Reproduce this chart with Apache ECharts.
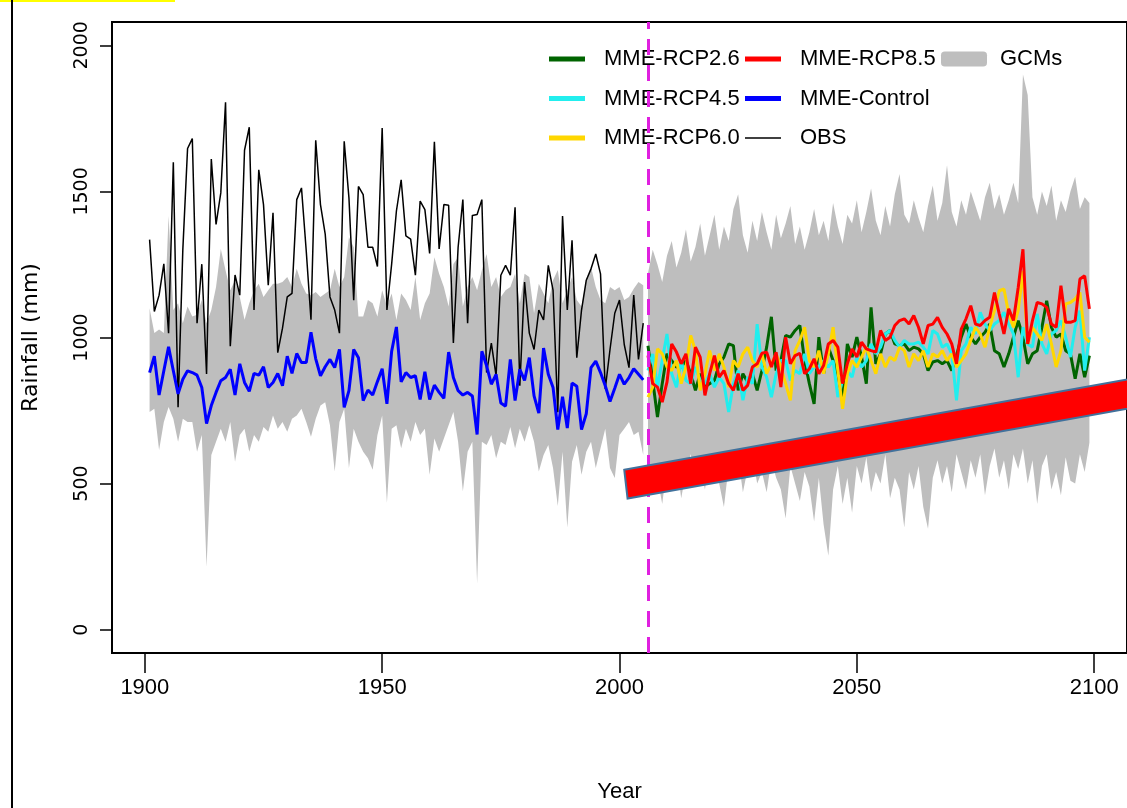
<!DOCTYPE html>
<html><head><meta charset="utf-8">
<script src="https://cdn.jsdelivr.net/npm/echarts@6/dist/echarts.min.js"></script>
<style>html,body{margin:0;padding:0;background:#fff}#c{width:1127px;height:808px}</style>
</head><body><div id="c"></div>
<script>
// ---------- data ----------
const histStart = 1901, futStart = 2006, splitYear = 2006;
const obs = [
1335,1089,1145,1252,1015,1600,761,1300,1647,1681,
1049,1251,875,1611,1387,1495,1805,970,1214,1145,
1641,1720,1094,1574,1455,1179,1427,948,1032,1139,
1151,1472,1512,1297,1061,1675,1455,1354,1139,1094,
1015,1672,1478,1128,1517,1489,1309,1309,1243,1717,
1094,1252,1433,1540,1348,1337,1213,1467,1438,1288,
1670,1303,1455,1453,981,1309,1472,1049,1418,1421,
1472,880,981,869,1213,1247,1213,1446,835,1190,
1015,959,1094,1060,1247,1162,744,1416,1094,1333,
931,1094,1196,1235,1286,1218,824,959,1083,1128,
976,897,1145,925,1049];
const control = [
880,936,803,886,968,886,807,857,886,880,
871,829,705,767,812,852,863,891,803,910,
846,816,877,871,900,829,846,877,835,936,
877,945,914,914,1018,927,869,900,925,897,
959,761,818,959,931,784,820,803,849,893,
773,953,1036,848,880,863,869,788,883,788,
837,812,792,950,863,818,803,812,800,668,
953,903,840,874,776,765,925,784,891,853,
931,800,741,964,874,829,685,797,690,844,
833,685,739,897,919,880,835,781,826,874,
840,863,893,874,855];
const gcmHistUpper = [
1100,1015,1027,1015,1416,1094,1117,1049,1106,1072,
1078,1128,1049,1094,1173,1303,1230,1162,1196,1139,
1061,1117,1162,1184,1139,1162,1184,1184,1190,1207,
1173,1235,1184,1151,1145,1156,1139,1151,1162,1235,
1173,1207,1343,1309,1072,1072,1128,1117,1072,1162,
1106,1151,1060,1151,1128,1094,1207,1060,1117,1151,
1275,1218,1173,1106,1252,1275,1106,1173,1207,1162,
1230,1286,1173,1207,1139,1162,1173,1218,1117,1218,
1207,1083,1184,1151,1117,1196,1231,1117,1162,1207,
1128,1106,1196,1241,1173,1128,1117,1173,1162,1173,
1128,1139,1167,1190,1179];
const gcmHistLower = [
745,756,615,711,762,722,643,722,711,711,
609,666,214,598,643,688,643,711,575,666,
688,609,666,643,694,677,733,688,711,677,
722,733,756,711,660,722,767,778,700,541,
711,756,553,688,643,609,587,547,666,733,
434,688,700,621,688,643,711,666,688,530,
654,609,654,700,745,643,474,609,643,158,
643,632,666,587,643,632,694,621,688,643,
700,643,541,598,632,553,423,609,350,575,
632,530,609,643,553,621,688,553,519,666,
688,711,666,677,598];
const rcp26 = [
972,853,728,842,944,921,899,899,921,876,
819,876,830,842,853,910,933,978,972,819,
876,847,876,819,887,967,1071,887,921,1007,
1001,1024,1041,921,842,773,1001,876,967,921,
876,785,978,933,1001,933,842,1103,910,944,
1012,1024,978,972,978,955,967,961,944,887,
916,921,910,921,887,938,1001,1046,1001,978,
1001,1018,1046,955,944,899,944,1001,1058,1001,
910,944,955,1035,1126,1035,1001,1012,955,944,
859,944,864,938];
const rcp45 = [
887,944,830,921,1012,876,830,921,853,842,
899,853,842,876,830,864,842,745,842,887,
785,864,842,1046,899,864,796,876,921,921,
853,887,876,944,876,899,899,921,899,921,
796,853,887,864,933,899,921,978,944,967,
1012,1024,990,967,990,978,978,984,967,944,
1024,1012,967,978,944,785,955,978,1035,1012,
1086,1046,1024,1046,1058,1086,1046,1012,864,1035,
978,967,1081,978,944,1012,1024,1058,1001,933,
1035,1092,887,1001];
const rcp60 = [
796,830,961,944,899,887,921,842,899,1007,
955,819,876,955,887,944,899,830,921,899,
944,967,921,899,944,876,910,944,899,842,
785,955,990,1035,921,899,955,876,944,1035,
887,756,876,921,899,933,967,921,876,944,
899,933,921,967,955,899,944,921,955,899,
944,933,955,921,944,899,921,944,990,1035,
1012,967,1035,1092,1160,1166,1081,1035,1092,1228,
978,1035,1012,990,1046,978,899,955,1115,1120,
1132,1154,1001,984];
const rcp85 = [
938,842,830,779,847,978,950,910,944,842,
967,933,802,876,938,864,887,842,819,876,
819,836,899,910,946,950,899,950,830,1001,
910,938,946,876,893,927,876,904,978,990,
967,842,910,961,933,984,961,955,950,1024,
990,1001,1041,1058,1064,1046,1075,1035,978,1041,
1046,1069,1035,1012,978,910,1029,1064,1109,1046,
1041,1058,1069,1154,1081,1012,1098,1058,1171,1302,
978,1058,1120,1115,1103,1046,1035,1177,1052,1052,
1058,1200,1211,1098];
const gcmFutUpper = [
1220,1300,1250,1190,1280,1330,1240,1290,1370,1260,
1310,1390,1280,1350,1420,1300,1380,1330,1440,1490,
1350,1290,1400,1330,1430,1360,1300,1420,1340,1390,
1450,1320,1380,1300,1360,1440,1350,1400,1330,1460,
1380,1320,1420,1390,1470,1360,1430,1510,1400,1350,
1450,1380,1490,1560,1420,1390,1470,1410,1360,1450,
1520,1400,1460,1590,1430,1380,1470,1420,1500,1450,
1400,1480,1530,1440,1490,1420,1470,1530,1460,1900,
1830,1480,1420,1500,1450,1520,1400,1470,1430,1500,
1550,1440,1480,1460];
const gcmFutLower = [
560,470,520,430,560,500,580,450,540,600,
520,560,480,590,540,500,420,560,520,590,
470,550,600,500,540,470,580,520,480,380,
560,500,440,540,490,370,520,360,253,480,
560,430,520,400,560,500,590,470,540,500,
600,450,520,480,350,540,480,560,420,345,
520,580,500,560,470,600,540,480,580,520,
600,460,560,620,520,580,480,600,550,620,
500,580,430,560,600,480,540,460,590,510,
500,600,540,640];
// annotation bar (year, rainfall) corners
const trendBar = [[2001.0, 547], [2112.0, 871], [2112.7, 773], [2001.7, 449]];
const xTicks = [1900, 1950, 2000, 2050, 2100];
const yTicks = [0, 500, 1000, 1500, 2000];

// ---------- build ----------
const histYears = obs.map((_, i) => histStart + i);
const futYears = rcp26.map((_, i) => futStart + i);
const pairs = (yrs, v) => v.map((d, i) => [yrs[i], d]);

const FONT = "'Liberation Sans', Arial, sans-serif";
const FONT_W = "'DejaVu Sans', sans-serif";

function lineSeries(name, yrs, vals, color, width) {
  return { name, type: 'line', data: pairs(yrs, vals), symbol: 'none', showSymbol: false,
    color, itemStyle: { color }, lineStyle: { color, width }, silent: true, animation: false, z: 3 };
}
function band(name, yrs, up, lo) {
  const upPts = pairs(yrs, up);
  const loPts = pairs(yrs, lo).reverse();
  return { name, type: 'custom', data: [0], silent: true, animation: false, z: 1,
    color: '#bebebe', itemStyle: { color: '#bebebe' },
    renderItem: (params, api) => ({
      type: 'polygon',
      shape: { points: upPts.concat(loPts).map(p => api.coord(p)) },
      style: { fill: '#bebebe', stroke: 'none' }
    }) };
}

const obsSeries = lineSeries('OBS', histYears, obs, '#000000', 1.5);
obsSeries.z = 2;
obsSeries.markLine = { symbol: 'none', silent: true, animation: false, label: { show: false },
  lineStyle: { color: '#e020e0', type: [16, 10], width: 3 }, data: [{ xAxis: splitYear }] };

const series = [
  band('GCMs', histYears, gcmHistUpper, gcmHistLower),
  band('GCMs', futYears, gcmFutUpper, gcmFutLower),
  obsSeries,
  lineSeries('MME-Control', histYears, control, '#0000ff', 3),
  lineSeries('MME-RCP2.6', futYears, rcp26, '#006400', 3),
  lineSeries('MME-RCP4.5', futYears, rcp45, '#22eeee', 3),
  lineSeries('MME-RCP6.0', futYears, rcp60, '#ffd700', 3),
  lineSeries('MME-RCP8.5', futYears, rcp85, '#ff0000', 3),
  { name: 'trend', type: 'custom', data: [0], silent: true, animation: false, z: 10, clip: false,
    renderItem: (params, api) => ({
      type: 'polygon',
      shape: { points: trendBar.map(p => api.coord(p)) },
      style: { fill: '#ff0000', stroke: '#41719c', lineWidth: 2 }
    }) }
];

const legendSpec = [
  { name: 'MME-RCP2.6', left: 549, cy: 60, h: 5 },
  { name: 'MME-RCP4.5', left: 549, cy: 99.5, h: 5 },
  { name: 'MME-RCP6.0', left: 549, cy: 139, h: 5 },
  { name: 'MME-RCP8.5', left: 745, cy: 60, h: 5 },
  { name: 'MME-Control', left: 745, cy: 99.5, h: 5 },
  { name: 'OBS', left: 745, cy: 139, h: 1.5 },
];
const legends = legendSpec.map(s => ({
  data: [{ name: s.name, icon: 'rect' }], left: s.left, top: s.cy - 12, padding: 0,
  itemWidth: 36, itemHeight: s.h, selectedMode: false,
  textStyle: { fontFamily: FONT, fontSize: 22, color: '#000', padding: [0, 0, 0, 14] }
}));
legends.push({ data: [{ name: 'GCMs', icon: 'roundRect' }], left: 941, top: 60 - 12, padding: 0,
  itemWidth: 46, itemHeight: 15, selectedMode: false,
  textStyle: { fontFamily: FONT, fontSize: 22, color: '#000', padding: [0, 0, 0, 8] } });

const chart = echarts.init(document.getElementById('c'), null, { renderer: 'canvas' });
chart.setOption({
  animation: false,
  backgroundColor: '#ffffff',
  grid: { show: true, left: 112, top: 22, width: 1022, height: 638.5, borderColor: '#000', borderWidth: 2, backgroundColor: 'transparent' },
  legend: legends,
  xAxis: {
    type: 'value', min: 1893.08, max: 2106.92,
    name: 'Year', nameLocation: 'middle', nameGap: 128,
    nameTextStyle: { fontFamily: FONT, fontSize: 22, color: '#000' },
    axisLine: { show: false, onZero: false },
    axisTick: { show: true, customValues: xTicks, length: 20, lineStyle: { color: '#000', width: 1.5 } },
    axisLabel: { customValues: xTicks, margin: 24, fontFamily: FONT, fontSize: 22, color: '#000', formatter: v => String(v) },
    splitLine: { show: false }
  },
  yAxis: {
    type: 'value', min: -80, max: 2080,
    name: 'Rainfall (mm)', nameLocation: 'middle', nameGap: 70, nameRotate: 90,
    nameTextStyle: { fontFamily: FONT_W, fontSize: 22, color: '#000' },
    axisLine: { show: false, onZero: false },
    axisTick: { show: true, customValues: yTicks, length: 12, lineStyle: { color: '#000', width: 1.5 } },
    axisLabel: { customValues: yTicks, rotate: 90, margin: 20, fontFamily: FONT_W, fontSize: 19, color: '#000', formatter: v => String(v) },
    splitLine: { show: false }
  },
  graphic: [
    { type: 'rect', shape: { x: 0, y: 0, width: 175, height: 2 }, style: { fill: '#ffff00' }, silent: true },
    { type: 'line', shape: { x1: 12, y1: 0, x2: 12, y2: 808 }, style: { stroke: '#000', lineWidth: 2 }, silent: true }
  ],
  series
});
</script></body></html>
